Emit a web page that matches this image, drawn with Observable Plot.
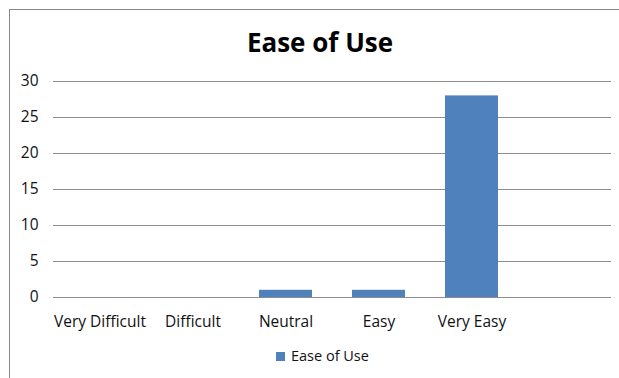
<!DOCTYPE html>
<html>
<head>
<meta charset="utf-8">
<script src="https://cdn.jsdelivr.net/npm/d3@7"></script>
<script src="https://cdn.jsdelivr.net/npm/@observablehq/plot@0.6"></script>
<style>
  body { margin: 0; background: #fff; }
  #wrap { position: relative; width: 619px; height: 378px; overflow: hidden; font-family: "Open Sans", sans-serif; }
  #frame { position: absolute; left: 9px; top: 9px; width: 700px; height: 500px;
           border-left: 1.5px solid #8a8a8a; border-top: 1.5px solid #8a8a8a; }
  #chart { position: absolute; left: 0; top: 0; }
  #title { position: absolute; left: 220px; width: 200px; top: 29px; text-align: center;
           font-weight: 700; font-size: 26px; line-height: 26px; color: #000; white-space: nowrap; }
  #legend { position: absolute; left: 276px; top: 349px; height: 15px; display: flex; align-items: center;
            font-size: 14.5px; line-height: 14.5px; color: #111; white-space: nowrap; }
  #legend .swatch { width: 9px; height: 9px; margin-right: 6px; }
</style>
</head>
<body>
<div id="wrap">
  <div id="frame"></div>
  <div id="chart"></div>
  <div id="title"></div>
  <div id="legend"><span class="swatch"></span><span class="name"></span></div>
</div>
<script>
// Survey responses: how easy the tool was to use
const categories = ["Very Difficult", "Difficult", "Neutral", "Easy", "Very Easy", ""];
const counts = [0, 0, 1, 1, 28, null];
const yTicks = [0, 5, 10, 15, 20, 25, 30];
const seriesName = "Ease of Use";
const barColor = "#4f81bd";

const table = categories.map((category, i) => ({category, count: counts[i]}));

const chart = Plot.plot({
  width: 619,
  height: 378,
  marginLeft: 53,
  marginRight: 8,
  marginTop: 81,
  marginBottom: 81,
  style: {fontFamily: "'Open Sans', sans-serif", fontSize: "15.5px", color: "#111", background: "transparent"},
  x: {domain: categories, paddingInner: 0.43, paddingOuter: 0.215, label: null, tickSize: 0, tickPadding: 18},
  y: {domain: [0, 30], ticks: yTicks, label: null, tickSize: 0, tickPadding: 15},
  marks: [
    Plot.ruleY(yTicks, {stroke: "#8c8c8c", strokeOpacity: 1, strokeWidth: 1.2}),
    Plot.barY(table.filter(d => d.count != null), {x: "category", y: "count", fill: barColor})
  ]
});
document.getElementById("chart").appendChild(chart);

document.getElementById("title").textContent = seriesName;
document.querySelector("#legend .swatch").style.background = barColor;
document.querySelector("#legend .name").textContent = seriesName;
</script>
</body>
</html>
